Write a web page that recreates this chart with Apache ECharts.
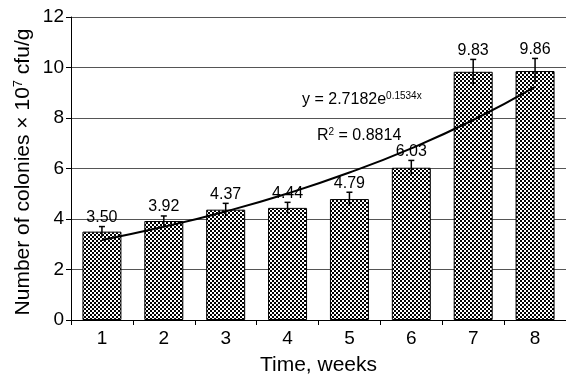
<!DOCTYPE html>
<html><head><meta charset="utf-8">
<script src="https://cdn.jsdelivr.net/npm/echarts@6/dist/echarts.min.js"></script>
<style>html,body{margin:0;padding:0;background:#fff}#c{width:566px;height:381px}</style>
</head><body><div id="c"></div>
<script>
const weeks = ['1','2','3','4','5','6','7','8'];
const colonies = [3.50, 3.92, 4.37, 4.44, 4.79, 6.03, 9.83, 9.86];
const errors = [0.20, 0.20, 0.25, 0.22, 0.27, 0.29, 0.49, 0.50];
const trend = [3.17, 3.69, 4.30, 5.01, 5.84, 6.80, 7.92, 9.23];
const labels = ['3.50','3.92','4.37','4.44','4.79','6.03','9.83','9.86'];

const pc = document.createElement('canvas');
pc.width = 4; pc.height = 4;
const pctx = pc.getContext('2d');
pctx.fillStyle = '#fff'; pctx.fillRect(0,0,4,4);
pctx.fillStyle = '#000'; pctx.fillRect(0,0,2,2); pctx.fillRect(2,2,2,2);

const font = '"Liberation Sans", Arial, sans-serif';
const chart = echarts.init(document.getElementById('c'), null, {renderer:'canvas'});
chart.setOption({
  animation:false,
  grid:{left:71, right:0, top:17, bottom:55, containLabel:false},
  xAxis:{
    type:'category', data:weeks, boundaryGap:true,
    axisLine:{lineStyle:{color:'#000', width:1}},
    axisTick:{show:true, alignWithLabel:false, length:5, lineStyle:{color:'#000'}},
    axisLabel:{fontSize:19, color:'#000', fontFamily:font, margin:9},
    name:'Time, weeks', nameLocation:'middle', nameGap:35,
    nameTextStyle:{fontSize:21, color:'#000', fontFamily:font}
  },
  yAxis:{
    type:'value', min:0, max:12, interval:2,
    axisLine:{show:true, lineStyle:{color:'#000', width:1}},
    axisTick:{show:true, length:5, lineStyle:{color:'#000'}},
    axisLabel:{fontSize:19, color:'#000', fontFamily:font, margin:7},
    splitLine:{show:true, lineStyle:{color:'#555', width:1}}
  },
  series:[
    {type:'bar', data:colonies, barWidth:'63%',
     itemStyle:{color:{image:pc, repeat:'repeat'}, borderColor:'#000', borderWidth:1}},
    {type:'custom', data:colonies.map((v,i)=>[i, v, errors[i]]), z:5,
     renderItem:function(params, api){
       const i = api.value(0), v = api.value(1), e = api.value(2);
       const top = api.coord([i, v+e]);
       const bot = api.coord([i, v-e]);
       return {type:'group', children:[
         {type:'line', shape:{x1:top[0], y1:top[1], x2:bot[0], y2:bot[1]}, style:{stroke:'#000', lineWidth:1.5}},
         {type:'line', shape:{x1:top[0]-3, y1:top[1], x2:top[0]+3, y2:top[1]}, style:{stroke:'#000', lineWidth:1.5}},
         {type:'text', x:top[0], y:top[1]-1, style:{text:labels[params.dataIndex], textAlign:'center', textVerticalAlign:'bottom', fontSize:16, fontFamily:font, fill:'#000'}}
       ]};
     }},
    {type:'line', data:trend, smooth:true, symbol:'none', z:4,
     lineStyle:{color:'#000', width:2}}
  ],
  graphic:[
    {type:'text', x:23, y:172, rotation:Math.PI/2,
     style:{text:'{a|Number of colonies × 10}{s|7}{a| cfu/g}', align:'center', verticalAlign:'middle',
       rich:{a:{fontSize:21, fontFamily:font, fill:'#000'}, s:{fontSize:13, fontFamily:font, fill:'#000', verticalAlign:'top', padding:[0,0,10,0]}}}},
    {type:'text', left:302, top:91, style:{text:'{a|y = 2.7182e}{s|0.1534x}', rich:{a:{fontSize:16, fontFamily:font, fill:'#000'}, s:{fontSize:10, fontFamily:font, fill:'#000', verticalAlign:'top', padding:[0,0,8,0]}}}},
    {type:'text', left:317, top:127, style:{text:'{a|R}{s|2}{a| = 0.8814}', rich:{a:{fontSize:16, fontFamily:font, fill:'#000'}, s:{fontSize:10, fontFamily:font, fill:'#000', verticalAlign:'top', padding:[0,0,8,0]}}}}
  ]
});
</script></body></html>
